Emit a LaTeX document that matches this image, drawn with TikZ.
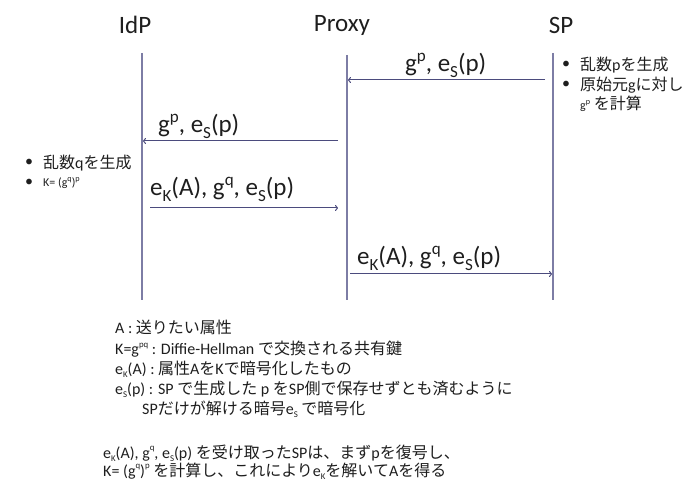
\documentclass[tikz,border=0pt]{standalone}
\usepackage{fontspec}
\setmainfont{Carlito}
\newfontfamily\jp{Noto Sans CJK JP}
\usetikzlibrary{arrows.meta}
\definecolor{lifec}{RGB}{125,125,165}
\definecolor{arrc}{RGB}{75,75,125}
\definecolor{txt}{RGB}{30,30,30}
\newcommand\myup[1]{\raisebox{0.42em}{\scalebox{0.68}{#1}}}
\newcommand\mydn[1]{\raisebox{-0.22em}{\scalebox{0.68}{#1}}}
\newcommand\smup[1]{\raisebox{0.45em}{\scalebox{0.55}{#1}}}
\newcommand\smdn[1]{\raisebox{-0.2em}{\scalebox{0.55}{#1}}}
\tikzset{
  lifeline/.style={draw=lifec, line width=1.1pt},
  msg/.style={draw=arrc, line width=1pt, -{To[length=3pt,width=6pt]}},
  hdr/.style={font=\fontsize{25}{29}\selectfont, text=txt, inner sep=0},
  lbl/.style={font=\fontsize{25}{29}\selectfont, anchor=base west, inner sep=0, text=txt},
  note/.style={font=\fontsize{16}{19}\selectfont, anchor=west, inner sep=0, text=txt},
  smallnote/.style={font=\fontsize{12}{14}\selectfont, anchor=west, inner sep=0, text=txt}
}
\begin{document}
\begin{tikzpicture}[x=1pt,y=-1pt]
\useasboundingbox (0,0) rectangle (699,481);
% headers
\node[hdr] (hidp) at (135,25) {IdP};
\node[hdr] (hpx) at (342,25) {Proxy};
\node[hdr] (hsp) at (561,25) {SP};
% lifelines
\coordinate (idpT) at (142,53); \coordinate (idpB) at (142,300);
\coordinate (pxT) at (347,55); \coordinate (pxB) at (347,300);
\coordinate (spT) at (553,53); \coordinate (spB) at (553,300);
\draw[lifeline] (idpT) -- (idpB);
\draw[lifeline] (pxT) -- (pxB);
\draw[lifeline] (spT) -- (spB);
% messages
\coordinate (m1s) at (545,80); \coordinate (m1e) at (348,80);
\coordinate (m2s) at (338,141); \coordinate (m2e) at (143,141);
\coordinate (m3s) at (150,208); \coordinate (m3e) at (338,208);
\coordinate (m4s) at (350,274); \coordinate (m4e) at (552,274);
\draw[msg] (m1s) -- (m1e);
\draw[msg] (m2s) -- (m2e);
\draw[msg] (m3s) -- (m3e);
\draw[msg] (m4s) -- (m4e);
\node[lbl] (l1) at (405,72) {g\myup{p}, e\mydn{S}(p)};
\node[lbl] (l2) at (158,133) {g\myup{p}, e\mydn{S}(p)};
\node[lbl] (l3) at (150,196) {e\mydn{K}(A), g\myup{q}, e\mydn{S}(p)};
\node[lbl] (l4) at (357,265) {e\mydn{K}(A), g\myup{q}, e\mydn{S}(p)};
% SP note
\node[note] (sb1) at (562,65) {•};
\node[note] (sn1) at (580,65) {{\jp 乱数}p{\jp を生成}};
\node[note] (sb2) at (562,85) {•};
\node[note] (sn2) at (580,85) {{\jp 原始元}g{\jp に対し}};
\node[note] (sn3) at (580,104) {{\fontsize{12}{14}\selectfont g\myup{p}} {\jp を計算}};
% IdP note
\node[note] (ib1) at (25,163) {•};
\node[note] (in1) at (43,163) {{\jp 乱数}q{\jp を生成}};
\node[note] (ib2) at (25,183) {•};
\node[smallnote] (in2) at (43,183) {K= (g\myup{q})\myup{p}};
% legend
\node[note] (t1) at (115,327) {A : {\jp 送りたい属性}};
\node[note] (t2) at (115,349) {K=g\smup{pq} : Diffie-Hellman {\jp で交換される共有鍵}};
\node[note] (t3) at (115,369) {e\smdn{K}(A) : {\jp 属性}A{\jp を}K{\jp で暗号化したもの}};
\node[note] (t4) at (115,389) {e\smdn{S}(p) : SP {\jp で生成した} p {\jp を}SP{\jp 側で保存せずとも済むように}};
\node[note] (t5) at (142,409) {SP{\jp だけが解ける暗号}e\smdn{S} {\jp で暗号化}};
\node[note] (t6) at (103,453) {e\smdn{K}(A), g\smup{q}, e\smdn{S}(p) {\jp を受け取った}SP{\jp は、まず}p{\jp を復号し、}};
\node[note] (t7) at (103,471) {K= (g\smup{q})\smup{p} {\jp を計算し、これにより}e\smdn{K}{\jp を解いて}A{\jp を得る}};
\end{tikzpicture}
\end{document}
